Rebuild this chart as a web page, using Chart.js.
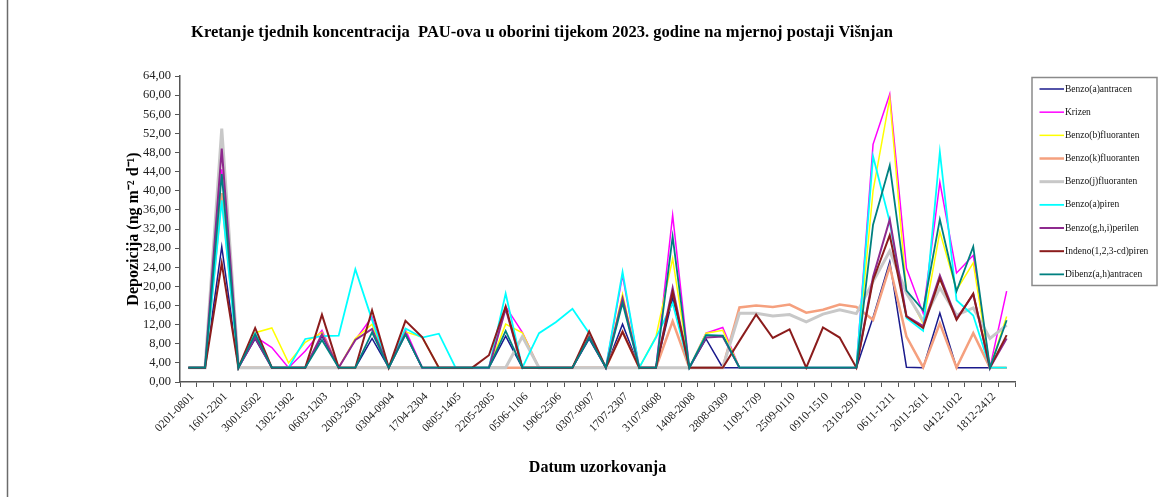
<!DOCTYPE html>
<html>
<head>
<meta charset="utf-8">
<script src="https://cdn.jsdelivr.net/npm/chart.js@4.4.1/dist/chart.umd.min.js"></script>
<style>
  html, body { margin: 0; padding: 0; background: #ffffff; }
  #wrap { width: 1158px; height: 497px; position: relative; }
</style>
</head>
<body>
<div id="wrap"><canvas id="c" width="1158" height="497"></canvas></div>
<script>
// Weekly sampling periods (ddmm-ddmm), 2023
const categories = [
  '0201-0801','0901-1501','1601-2201','2301-2901','3001-0502','0602-1202','1302-1902','2002-0503','0603-1203','1303-1903',
  '2003-2603','2703-0204','0304-0904','1004-1604','1704-2304','2404-0705','0805-1405','1505-2105','2205-2805','2905-0406',
  '0506-1106','1206-1806','1906-2506','2606-0207','0307-0907','1007-1607','1707-2307','2407-3007','3107-0608','0708-1308',
  '1408-2008','2108-2708','2808-0309','0409-1009','1109-1709','1809-2409','2509-0110','0210-0810','0910-1510','1610-2210',
  '2310-2910','3010-0511','0611-1211','1311-1911','2011-2611','2711-0312','0412-1012','1112-1712','1812-2412','2512-3112'
];

// Deposition values, ng m-2 d-1
const benzoAAntracen = [
  3,3,28.3,3,9.0,3,3,3,9.6,3,
  3,9.1,3,10,3,3,3,3,3,9.6,
  3,3,3,3,9.0,3,12.1,3,3,17.5,
  3,9.0,3,3,3,3,3,3,3,3,
  3,13.5,25.2,3.1,3,14.4,3,3,3,3
];
const krizen = [
  3,3,44.5,3,9.5,7.2,3,6.5,10.8,3,
  8.8,13.6,3,10.9,3,3,3,3,3,15.8,
  10.4,3,3,3,9.8,3,22.3,3,3,34.9,
  3,10.2,11.4,3,3,3,3,3,3,3,
  3,49.7,60.2,23.8,14.4,41.8,22.8,26.5,3,19.0
];
const benzoBFluoranten = [
  3,3,49.5,3,10.3,11.3,4.0,8.3,10.4,3,
  9.1,12.1,3,10.5,9.4,3,3,3,3,12.1,
  10.3,3,3,3,9.8,3,18.4,3,9.5,25.8,
  3,10.2,10.8,3,3,3,3,3,3,3,
  3,40.0,59.3,19.0,12.2,31.4,19.2,24.9,3,13.7
];
const benzoKFluoranten = [
  3,3,39.5,3,3,3,3,3,3,3,
  3,3,3,3,3,3,3,3,3,3,
  3,3,3,3,3,3,10.5,3,3,12.7,
  3,3,3,15.6,16.0,15.7,16.2,14.5,15.1,16.2,
  15.7,13.0,24.2,9.5,3.1,12.3,3,10.2,3,3
];
const benzoJFluoranten = [
  3,3,53.0,3,3,3,3,3,3,3,
  3,3,3,3,3,3,3,3,3,3,
  9.5,3,3,3,3,3,3,3,3,3,
  3,3,3,14.4,14.4,13.8,14.1,12.6,14.2,15.1,
  14.3,21.0,27.4,18.6,12.8,19.7,14.0,15.5,9.1,11.9
];
const benzoAPiren = [
  3,3,38.0,3,10.2,3,3,9.0,9.6,9.7,
  23.6,13.0,3,11.2,9.3,10.1,3,3,3,18.5,
  3,10.2,12.5,15.3,10.2,3,23.0,3,9.3,16.5,
  3,9.8,9.6,3,3,3,3,3,3,3,
  3,47.2,33.5,13.4,10.7,48.1,17.1,13.9,3,3
];
const benzoGhiPerilen = [
  3,3,48.8,3,9.3,3,3,3,10.0,3,
  8.8,11.1,3,10.2,3,3,3,3,3,15.3,
  3,3,3,3,9.5,3,17.5,3,3,19.7,
  3,9.3,9.5,3,3,3,3,3,3,3,
  3,22.0,34.0,13.8,11.7,22.3,13.2,18.3,3,9.1
];
const indenoPiren = [
  3,3,24.8,3,11.3,3,3,3,14.1,3,
  3,15.0,3,12.8,9.4,3,3,3,5.6,15.8,
  3,3,3,3,10.6,3,10.5,3,3,18.8,
  3,3,3,8.6,14.1,9.2,11.0,3,11.4,9.3,
  3,21.3,30.7,13.7,11.3,21.6,13.0,18.5,3,9.8
];
const dibenzAhAntracen = [
  3,3,43.5,3,10.0,3,3,3,8.8,3,
  3,10.4,3,9.9,3,3,3,3,3,10.7,
  3,3,3,3,9.3,3,16.5,3,3,30.4,
  3,9.8,9.7,3,3,3,3,3,3,3,
  3,32.9,45.3,19.1,15.0,34.0,19.0,28.3,3,12.9
];

const seriesNames = [
  'Benzo(a)antracen','Krizen','Benzo(b)fluoranten','Benzo(k)fluoranten','Benzo(j)fluoranten',
  'Benzo(a)piren','Benzo(g,h,i)perilen','Indeno(1,2,3-cd)piren','Dibenz(a,h)antracen'
];
const seriesValues = [
  benzoAAntracen, krizen, benzoBFluoranten, benzoKFluoranten, benzoJFluoranten,
  benzoAPiren, benzoGhiPerilen, indenoPiren, dibenzAhAntracen
];

// Line styles
const seriesColors = ['#1a1a8c','#ff00ff','#ffff00','#f5a07e','#c8c8c8','#00ffff','#8e2a8e','#8b1c1c','#008080'];
const seriesWidths = [1.5, 1.5, 1.5, 2.5, 3, 1.8, 2, 2, 1.8];

const SERIF = "'Liberation Serif', 'Times New Roman', serif";

// Title, legend box and outer frame
const decorPlugin = {
  id: 'decor',
  afterDraw(chart) {
    const ctx = chart.ctx;
    ctx.save();
    // left frame line
    ctx.strokeStyle = '#6b6b6b';
    ctx.lineWidth = 1.5;
    ctx.beginPath();
    ctx.moveTo(7.5, 0);
    ctx.lineTo(7.5, 497);
    ctx.stroke();

    // title
    ctx.fillStyle = '#000';
    ctx.font = 'bold 16.5px ' + SERIF;
    ctx.textAlign = 'center';
    ctx.textBaseline = 'middle';
    ctx.fillText('Kretanje tjednih koncentracija  PAU-ova u oborini tijekom 2023. godine na mjernoj postaji Višnjan', 542, 33);

    // legend
    const lx = 1032, ly = 77.5, lw = 125, lh = 208;
    ctx.strokeStyle = '#8a8a8a';
    ctx.lineWidth = 1.5;
    ctx.strokeRect(lx, ly, lw, lh);
    ctx.font = '9.5px ' + SERIF;
    ctx.textAlign = 'left';
    ctx.textBaseline = 'middle';
    chart.data.datasets.forEach((ds, k) => {
      const y = 89 + k * 23.17;
      ctx.strokeStyle = ds.borderColor;
      ctx.lineWidth = ds.borderWidth;
      ctx.beginPath();
      ctx.moveTo(1039.5, y);
      ctx.lineTo(1064, y);
      ctx.stroke();
      ctx.fillStyle = '#111';
      ctx.fillText(ds.label, 1065, y);
    });
    ctx.restore();
  }
};

new Chart(document.getElementById('c'), {
  type: 'line',
  data: {
    labels: categories,
    datasets: seriesNames.map((name, i) => ({
      label: name,
      data: seriesValues[i],
      borderColor: seriesColors[i],
      backgroundColor: seriesColors[i],
      borderWidth: seriesWidths[i],
      pointRadius: 0,
      tension: 0,
      fill: false,
      order: seriesNames.length - 1 - i
    }))
  },
  options: {
    responsive: false,
    animation: false,
    devicePixelRatio: 1,
    layout: { padding: { left: 115, right: 143, top: 76, bottom: 20 } },
    plugins: {
      legend: { display: false },
      title: { display: false },
      tooltip: { enabled: false }
    },
    scales: {
      x: {
        offset: true,
        grid: { offset: true, drawOnChartArea: false, tickLength: 5, color: '#555', lineWidth: 1 },
        border: { color: '#555', width: 1.5 },
        ticks: {
          autoSkip: false,
          maxRotation: 45,
          minRotation: 45,
          labelOffset: 4,
          padding: 3,
          color: '#222',
          font: { family: SERIF, size: 11.5 },
          callback(v, i) { return i % 2 === 0 ? this.getLabelForValue(v) : ''; }
        },
        title: {
          display: true,
          text: 'Datum uzorkovanja',
          color: '#000',
          font: { family: SERIF, size: 16, weight: 'bold' },
          padding: { top: 0, bottom: 0 }
        },
        afterFit(scale) { scale.height = 95; }
      },
      y: {
        min: 0,
        max: 64,
        grid: { drawOnChartArea: false, tickLength: 5, color: '#555', lineWidth: 1 },
        border: { color: '#555', width: 1.5 },
        ticks: {
          stepSize: 4,
          padding: 4,
          color: '#222',
          font: { family: SERIF, size: 12.5 },
          callback: v => v.toFixed(2).replace('.', ',')
        },
        title: {
          display: true,
          text: 'Depozicija (ng m⁻² d⁻¹)',
          color: '#000',
          font: { family: SERIF, size: 16, weight: 'bold' },
          padding: { top: 9, bottom: 0 }
        },
        afterFit(scale) { scale.width = 65; }
      }
    }
  },
  plugins: [decorPlugin]
});
</script>
</body>
</html>
